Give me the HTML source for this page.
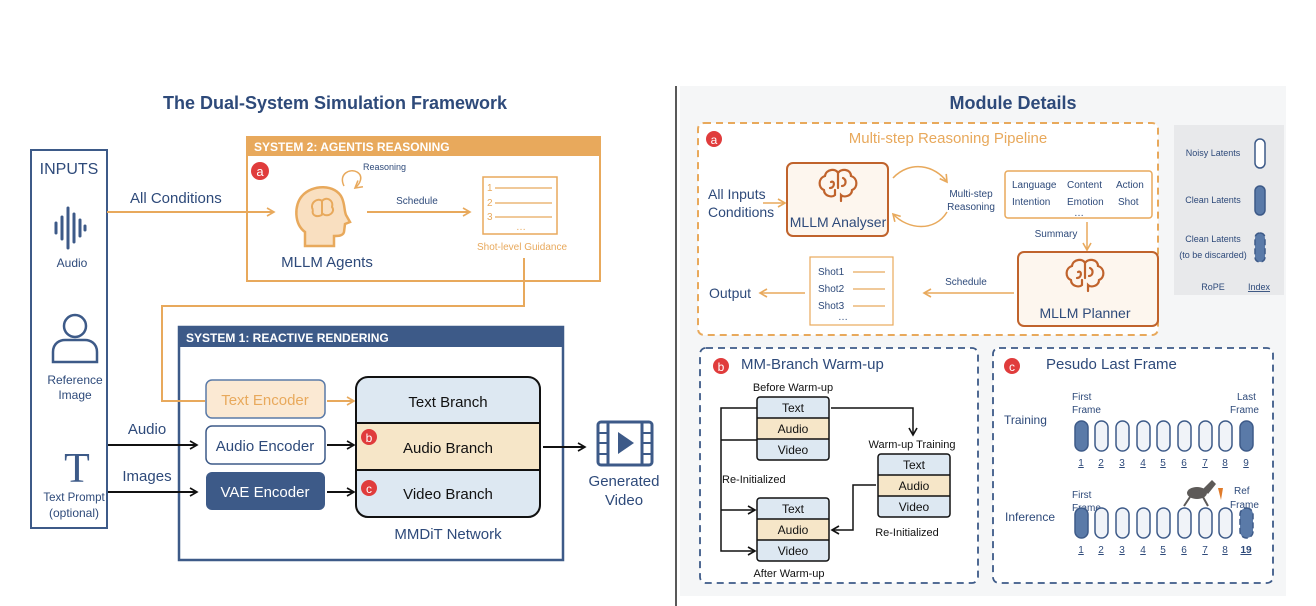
<!DOCTYPE html>
<html><head><meta charset="utf-8"><style>
body{margin:0;background:#fff;}
svg{display:block;font-family:"Liberation Sans",sans-serif;}
</style></head><body>
<svg width="1316" height="606" viewBox="0 0 1316 606" xmlns="http://www.w3.org/2000/svg">
<defs>
<marker id="ao" markerWidth="10" markerHeight="10" refX="8" refY="5" orient="auto" markerUnits="userSpaceOnUse"><path d="M1,1 L8,5 L1,9" fill="none" stroke="#e8a95c" stroke-width="1.6"/></marker>
<marker id="ak" markerWidth="10" markerHeight="10" refX="8" refY="5" orient="auto" markerUnits="userSpaceOnUse"><path d="M1,1 L8,5 L1,9" fill="none" stroke="#111" stroke-width="1.6"/></marker>
<g id="brain"><path d="M-14,4 C-20,2 -20,-8 -13,-10 C-12,-17 -2,-18 0,-13 C3,-18 13,-17 13,-10 C20,-8 20,2 14,4 C14,10 6,12 3,9 L3,15 M-14,4 C-14,10 -6,12 -3,9 M-7,-4 C-3,-6 -3,2 -8,2 M5,-8 C9,-6 8,0 4,0 M0,-13 L0,2 M-3,9 L-3,4" fill="none" stroke="#c0632c" stroke-width="2.2" stroke-linecap="round"/></g>
</defs>

<!-- LEFT -->
<text x="335" y="109" text-anchor="middle" font-size="18" font-weight="bold" fill="#2e4a7a">The Dual-System Simulation Framework</text>
<line x1="676" y1="86" x2="676" y2="606" stroke="#222" stroke-width="1.5"/>

<rect x="31" y="150" width="76" height="378" fill="#fff" stroke="#3d5a88" stroke-width="2"/>
<text x="69" y="174" text-anchor="middle" font-size="16" fill="#2e4a7a">INPUTS</text>
<g stroke="#3d5a88" stroke-width="3" stroke-linecap="round">
<line x1="56" y1="223" x2="56" y2="233"/><line x1="62" y1="217" x2="62" y2="239"/><line x1="68" y1="208" x2="68" y2="248"/><line x1="74" y1="214" x2="74" y2="242"/><line x1="80" y1="220" x2="80" y2="236"/><line x1="85" y1="226" x2="85" y2="230"/></g>
<text x="72" y="267" text-anchor="middle" font-size="12" fill="#2e4a7a">Audio</text>
<circle cx="75" cy="326" r="11" fill="none" stroke="#3d5a88" stroke-width="2.5"/>
<path d="M53,362 L53,352 C53,343 60,340 65,340 L85,340 C90,340 97,343 97,352 L97,362 Z" fill="none" stroke="#3d5a88" stroke-width="2.5"/>
<text x="75" y="384" text-anchor="middle" font-size="12" fill="#2e4a7a">Reference</text>
<text x="75" y="399" text-anchor="middle" font-size="12" fill="#2e4a7a">Image</text>
<text x="77" y="482" text-anchor="middle" font-size="42" font-family="Liberation Serif,serif" fill="#3d5a88">T</text>
<text x="74" y="501" text-anchor="middle" font-size="11.5" fill="#2e4a7a">Text Prompt</text>
<text x="74" y="517" text-anchor="middle" font-size="12" fill="#2e4a7a">(optional)</text>

<rect x="247" y="137" width="353" height="144" fill="#fff" stroke="#e8a95c" stroke-width="2"/>
<rect x="247" y="137" width="353" height="19" fill="#e8a95c"/>
<text x="254" y="151" font-size="12" font-weight="bold" fill="#fff">SYSTEM 2: AGENTIS REASONING</text>
<text x="130" y="203" font-size="15" fill="#2e4a7a">All Conditions</text>
<line x1="107" y1="212" x2="274" y2="212" stroke="#e8a95c" stroke-width="2" marker-end="url(#ao)"/>
<circle cx="260" cy="171" r="9" fill="#e03c3c"/><text x="260" y="176" text-anchor="middle" font-size="13" fill="#fff">a</text>
<path d="M305,246 L305,232 C294,224 294,205 302,196 C312,184 336,184 342,198 C345,205 344,210 346,215 L350,222 L345,224 L344,232 C343,236 338,236 334,236 L334,246 Z" fill="#f9dfc0" stroke="#e8a95c" stroke-width="2.5"/>
<path d="M313,210 C309,203 318,197 322,201 C326,196 334,200 332,207 C336,212 328,218 323,214 C318,218 311,216 313,210 M322,201 L322,214" fill="none" stroke="#e8a95c" stroke-width="2"/>
<path d="M344,186 C338,174 350,168 357,172 C364,176 360,184 355,188" fill="none" stroke="#e8a95c" stroke-width="1.5" marker-end="url(#ao)"/>
<text x="363" y="170" font-size="9" fill="#2e4a7a">Reasoning</text>
<text x="327" y="267" text-anchor="middle" font-size="15" fill="#2e4a7a">MLLM Agents</text>
<text x="417" y="204" text-anchor="middle" font-size="10" fill="#2e4a7a">Schedule</text>
<line x1="367" y1="212" x2="470" y2="212" stroke="#e8a95c" stroke-width="2" marker-end="url(#ao)"/>
<rect x="483" y="177" width="74" height="57" fill="#fff" stroke="#e8a95c" stroke-width="1.5"/>
<g font-size="10" fill="#e8a95c"><text x="487" y="191">1</text><text x="487" y="206">2</text><text x="487" y="220">3</text><text x="516" y="230">…</text></g>
<g stroke="#e8a95c" stroke-width="1.3"><line x1="495" y1="188" x2="552" y2="188"/><line x1="495" y1="203" x2="552" y2="203"/><line x1="495" y1="217" x2="552" y2="217"/></g>
<text x="522" y="250" text-anchor="middle" font-size="10" fill="#e8a95c">Shot-level Guidance</text>

<rect x="179" y="327" width="384" height="233" fill="#fff" stroke="#3d5a88" stroke-width="2.5"/>
<rect x="179" y="327" width="384" height="20" fill="#3d5a88"/>
<text x="186" y="342" font-size="12" font-weight="bold" fill="#fff">SYSTEM 1: REACTIVE RENDERING</text>
<polyline points="524,258 524,306 162,306 162,401 205,401" fill="none" stroke="#e8a95c" stroke-width="2"/>

<rect x="206" y="380" width="119" height="38" rx="6" fill="#fbe9d3" stroke="#5a7aa8" stroke-width="1.5"/>
<text x="265" y="405" text-anchor="middle" font-size="15" fill="#e8a95c">Text Encoder</text>
<rect x="206" y="426" width="119" height="38" rx="6" fill="#fff" stroke="#3d5a88" stroke-width="1.5"/>
<text x="265" y="451" text-anchor="middle" font-size="15" fill="#2e4a7a">Audio Encoder</text>
<rect x="206" y="472" width="119" height="38" rx="6" fill="#3d5a88"/>
<text x="265" y="497" text-anchor="middle" font-size="15" fill="#fff">VAE Encoder</text>
<line x1="327" y1="401" x2="354" y2="401" stroke="#e8a95c" stroke-width="2" marker-end="url(#ao)"/>
<line x1="327" y1="445" x2="354" y2="445" stroke="#111" stroke-width="2" marker-end="url(#ak)"/>
<line x1="327" y1="492" x2="354" y2="492" stroke="#111" stroke-width="2" marker-end="url(#ak)"/>

<clipPath id="mm"><rect x="356" y="377" width="184" height="140" rx="12"/></clipPath>
<g clip-path="url(#mm)">
<rect x="356" y="377" width="184" height="46" fill="#dde8f2"/>
<rect x="356" y="423" width="184" height="47" fill="#f6e6c8"/>
<rect x="356" y="470" width="184" height="47" fill="#dde8f2"/>
</g>
<rect x="356" y="377" width="184" height="140" rx="12" fill="none" stroke="#111" stroke-width="2"/>
<line x1="356" y1="423" x2="540" y2="423" stroke="#111" stroke-width="2"/>
<line x1="356" y1="470" x2="540" y2="470" stroke="#111" stroke-width="2"/>
<text x="448" y="407" text-anchor="middle" font-size="15" fill="#111">Text Branch</text>
<text x="448" y="453" text-anchor="middle" font-size="15" fill="#111">Audio Branch</text>
<text x="448" y="499" text-anchor="middle" font-size="15" fill="#111">Video Branch</text>
<circle cx="369" cy="437" r="8" fill="#e03c3c"/><text x="369" y="442" text-anchor="middle" font-size="12" fill="#fff">b</text>
<circle cx="369" cy="488" r="8" fill="#e03c3c"/><text x="369" y="493" text-anchor="middle" font-size="12" fill="#fff">c</text>
<text x="448" y="539" text-anchor="middle" font-size="15" fill="#2e4a7a">MMDiT Network</text>

<text x="147" y="434" text-anchor="middle" font-size="15" fill="#2e4a7a">Audio</text>
<text x="147" y="481" text-anchor="middle" font-size="15" fill="#2e4a7a">Images</text>
<line x1="108" y1="445" x2="197" y2="445" stroke="#111" stroke-width="2" marker-end="url(#ak)"/>
<line x1="108" y1="492" x2="197" y2="492" stroke="#111" stroke-width="2" marker-end="url(#ak)"/>
<line x1="543" y1="447" x2="585" y2="447" stroke="#111" stroke-width="2" marker-end="url(#ak)"/>

<rect x="598" y="422" width="54" height="43" rx="3" fill="none" stroke="#3d5a88" stroke-width="3"/>
<line x1="608" y1="422" x2="608" y2="465" stroke="#3d5a88" stroke-width="3"/>
<line x1="642" y1="422" x2="642" y2="465" stroke="#3d5a88" stroke-width="3"/>
<g stroke="#3d5a88" stroke-width="2"><line x1="598" y1="433" x2="608" y2="433"/><line x1="598" y1="443" x2="608" y2="443"/><line x1="598" y1="454" x2="608" y2="454"/><line x1="642" y1="433" x2="652" y2="433"/><line x1="642" y1="443" x2="652" y2="443"/><line x1="642" y1="454" x2="652" y2="454"/></g>
<path d="M618,432 L634,443 L618,454 Z" fill="#3d5a88"/>
<text x="624" y="486" text-anchor="middle" font-size="15" fill="#2e4a7a">Generated</text>
<text x="624" y="505" text-anchor="middle" font-size="15" fill="#2e4a7a">Video</text>

<!-- RIGHT -->
<rect x="680" y="86" width="606" height="510" fill="#f5f6f7"/>
<text x="1013" y="109" text-anchor="middle" font-size="18" font-weight="bold" fill="#2e4a7a">Module Details</text>

<rect x="698" y="123" width="460" height="212" rx="6" fill="#fff" stroke="#e8a95c" stroke-width="2" stroke-dasharray="7,5"/>
<circle cx="714" cy="139" r="8" fill="#e03c3c"/><text x="714" y="144" text-anchor="middle" font-size="12" fill="#fff">a</text>
<text x="948" y="143" text-anchor="middle" font-size="15" fill="#e8a95c">Multi-step Reasoning Pipeline</text>
<text x="708" y="199" font-size="14" fill="#2e4a7a">All Inputs</text>
<text x="708" y="217" font-size="14" fill="#2e4a7a">Conditions</text>
<line x1="763" y1="203" x2="785" y2="203" stroke="#e8a95c" stroke-width="1.5" marker-end="url(#ao)"/>
<rect x="787" y="163" width="101" height="73" rx="6" fill="#fdf6ee" stroke="#c0632c" stroke-width="2"/>
<use href="#brain" x="838" y="186"/>
<text x="838" y="227" text-anchor="middle" font-size="14" fill="#2e4a7a">MLLM Analyser</text>
<path d="M893,178 C910,160 935,165 947,182" fill="none" stroke="#e8a95c" stroke-width="1.5" marker-end="url(#ao)"/>
<path d="M947,212 C935,232 908,230 893,214" fill="none" stroke="#e8a95c" stroke-width="1.5" marker-end="url(#ao)"/>
<text x="971" y="197" text-anchor="middle" font-size="10" fill="#2e4a7a">Multi-step</text>
<text x="971" y="210" text-anchor="middle" font-size="10" fill="#2e4a7a">Reasoning</text>
<rect x="1005" y="171" width="147" height="47" rx="3" fill="#fff" stroke="#e8a95c" stroke-width="1.5"/>
<g font-size="10" fill="#2e4a7a"><text x="1012" y="188">Language</text><text x="1067" y="188">Content</text><text x="1116" y="188">Action</text><text x="1012" y="205">Intention</text><text x="1067" y="205">Emotion</text><text x="1118" y="205">Shot</text><text x="1074" y="216">…</text></g>
<text x="1056" y="237" text-anchor="middle" font-size="10" fill="#2e4a7a">Summary</text>
<line x1="1087" y1="222" x2="1087" y2="250" stroke="#e8a95c" stroke-width="1.5" marker-end="url(#ao)"/>
<rect x="1018" y="252" width="140" height="74" rx="6" fill="#fdf6ee" stroke="#c0632c" stroke-width="2"/>
<use href="#brain" x="1085" y="276"/>
<text x="1085" y="318" text-anchor="middle" font-size="14" fill="#2e4a7a">MLLM Planner</text>
<text x="966" y="285" text-anchor="middle" font-size="10" fill="#2e4a7a">Schedule</text>
<line x1="1014" y1="293" x2="924" y2="293" stroke="#e8a95c" stroke-width="1.5" marker-end="url(#ao)"/>
<rect x="810" y="257" width="83" height="68" fill="#fff" stroke="#e8a95c" stroke-width="1.2"/>
<g font-size="10" fill="#2e4a7a"><text x="818" y="275">Shot1</text><text x="818" y="292">Shot2</text><text x="818" y="309">Shot3</text><text x="838" y="320">…</text></g>
<g stroke="#e8a95c" stroke-width="1.3"><line x1="853" y1="272" x2="885" y2="272"/><line x1="853" y1="289" x2="885" y2="289"/><line x1="853" y1="306" x2="885" y2="306"/></g>
<text x="709" y="298" font-size="14" fill="#2e4a7a">Output</text>
<line x1="805" y1="293" x2="760" y2="293" stroke="#e8a95c" stroke-width="1.5" marker-end="url(#ao)"/>

<rect x="1174" y="125" width="110" height="170" fill="#e8e9eb"/>
<g font-size="9" fill="#2e4a7a" text-anchor="middle"><text x="1213" y="156">Noisy Latents</text><text x="1213" y="203">Clean Latents</text><text x="1213" y="242">Clean Latents</text><text x="1213" y="258">(to be discarded)</text><text x="1213" y="290">RoPE</text><text x="1259" y="290" text-decoration="underline">Index</text></g>
<rect x="1255" y="139" width="10" height="29" rx="5" fill="#fff" stroke="#3d5a88" stroke-width="1.5"/>
<rect x="1255" y="186" width="10" height="29" rx="5" fill="#5a7aa8" stroke="#3d5a88" stroke-width="1.5"/>
<rect x="1255" y="233" width="10" height="29" rx="5" fill="#5a7aa8" stroke="#3d5a88" stroke-width="1.5" stroke-dasharray="6,3"/>

<!-- b -->
<rect x="700" y="348" width="278" height="235" rx="6" fill="#fff" stroke="#3d5a88" stroke-width="1.8" stroke-dasharray="7,5"/>
<circle cx="721" cy="366" r="8" fill="#e03c3c"/><text x="721" y="371" text-anchor="middle" font-size="12" fill="#fff">b</text>
<text x="741" y="369" font-size="15" fill="#2e4a7a">MM-Branch Warm-up</text>
<text x="793" y="391" text-anchor="middle" font-size="11" fill="#111">Before Warm-up</text>
<g id="stk">
<rect x="757" y="397" width="72" height="21" fill="#dde8f2"/><rect x="757" y="418" width="72" height="21" fill="#f6e6c8"/><rect x="757" y="439" width="72" height="21" fill="#dde8f2"/>
<rect x="757" y="397" width="72" height="63" rx="3" fill="none" stroke="#111" stroke-width="1.5"/>
<line x1="757" y1="418" x2="829" y2="418" stroke="#111" stroke-width="1.5"/><line x1="757" y1="439" x2="829" y2="439" stroke="#111" stroke-width="1.5"/>
<g font-size="12" fill="#111" text-anchor="middle"><text x="793" y="412">Text</text><text x="793" y="433">Audio</text><text x="793" y="454">Video</text></g>
</g>
<use href="#stk" x="121" y="57"/>
<use href="#stk" x="0" y="101"/>
<text x="912" y="448" text-anchor="middle" font-size="11" fill="#111">Warm-up Training</text>
<text x="789" y="577" text-anchor="middle" font-size="11" fill="#111">After Warm-up</text>
<text x="722" y="483" font-size="11" fill="#111">Re-Initialized</text>
<text x="907" y="536" text-anchor="middle" font-size="11" fill="#111">Re-Initialized</text>
<polyline points="757,408 721,408 721,551 755,551" fill="none" stroke="#111" stroke-width="1.5" marker-end="url(#ak)"/>
<line x1="721" y1="440" x2="757" y2="440" stroke="#111" stroke-width="1.5"/>
<line x1="721" y1="510" x2="755" y2="510" stroke="#111" stroke-width="1.5" marker-end="url(#ak)"/>
<polyline points="831,408 913,408 913,435" fill="none" stroke="#111" stroke-width="1.5" marker-end="url(#ak)"/>
<polyline points="876,485 853,485 853,530 832,530" fill="none" stroke="#111" stroke-width="1.5" marker-end="url(#ak)"/>

<!-- c -->
<rect x="993" y="348" width="280" height="235" rx="6" fill="#fff" stroke="#3d5a88" stroke-width="1.8" stroke-dasharray="7,5"/>
<circle cx="1012" cy="366" r="8" fill="#e03c3c"/><text x="1012" y="371" text-anchor="middle" font-size="12" fill="#fff">c</text>
<text x="1046" y="369" font-size="15" fill="#2e4a7a">Pesudo Last Frame</text>
<g font-size="10" fill="#2e4a7a">
<text x="1072" y="400">First</text><text x="1072" y="413">Frame</text>
<text x="1237" y="400">Last</text><text x="1230" y="413">Frame</text>
<text x="1072" y="498">First</text><text x="1072" y="511">Frame</text>
<text x="1234" y="494">Ref</text><text x="1230" y="508">Frame</text>
</g>
<text x="1004" y="424" font-size="12" fill="#2e4a7a">Training</text>
<text x="1005" y="521" font-size="12" fill="#2e4a7a">Inference</text>
<g stroke="#3d5a88" stroke-width="1.5">
<rect x="1075" y="421" width="13" height="30" rx="6.5" fill="#5a7aa8"/>
<rect x="1095" y="421" width="13" height="30" rx="6.5" fill="#f0f3f8"/><rect x="1116" y="421" width="13" height="30" rx="6.5" fill="#f0f3f8"/><rect x="1137" y="421" width="13" height="30" rx="6.5" fill="#f0f3f8"/><rect x="1157" y="421" width="13" height="30" rx="6.5" fill="#f0f3f8"/><rect x="1178" y="421" width="13" height="30" rx="6.5" fill="#f0f3f8"/><rect x="1199" y="421" width="13" height="30" rx="6.5" fill="#f0f3f8"/><rect x="1219" y="421" width="13" height="30" rx="6.5" fill="#f0f3f8"/>
<rect x="1240" y="421" width="13" height="30" rx="6.5" fill="#5a7aa8"/>
<rect x="1075" y="508" width="13" height="30" rx="6.5" fill="#5a7aa8"/>
<rect x="1095" y="508" width="13" height="30" rx="6.5" fill="#f0f3f8"/><rect x="1116" y="508" width="13" height="30" rx="6.5" fill="#f0f3f8"/><rect x="1137" y="508" width="13" height="30" rx="6.5" fill="#f0f3f8"/><rect x="1157" y="508" width="13" height="30" rx="6.5" fill="#f0f3f8"/><rect x="1178" y="508" width="13" height="30" rx="6.5" fill="#f0f3f8"/><rect x="1199" y="508" width="13" height="30" rx="6.5" fill="#f0f3f8"/><rect x="1219" y="508" width="13" height="30" rx="6.5" fill="#f0f3f8"/>
<rect x="1240" y="508" width="13" height="30" rx="6.5" fill="#5a7aa8" stroke-dasharray="6,3"/>
</g>
<g font-size="10" fill="#2e4a7a" text-anchor="middle" text-decoration="underline">
<text x="1081" y="466">1</text><text x="1101" y="466">2</text><text x="1122" y="466">3</text><text x="1143" y="466">4</text><text x="1163" y="466">5</text><text x="1184" y="466">6</text><text x="1205" y="466">7</text><text x="1225" y="466">8</text><text x="1246" y="466">9</text>
<text x="1081" y="553">1</text><text x="1101" y="553">2</text><text x="1122" y="553">3</text><text x="1143" y="553">4</text><text x="1163" y="553">5</text><text x="1184" y="553">6</text><text x="1205" y="553">7</text><text x="1225" y="553">8</text><text x="1246" y="553" font-weight="bold">19</text>
</g>
<g fill="#5d5a58"><ellipse cx="1197" cy="493" rx="10" ry="6"/><path d="M1203,489 L1212,480 L1216,484 L1208,494 Z"/><line x1="1190" y1="497" x2="1184" y2="506" stroke="#5d5a58" stroke-width="2"/><line x1="1203" y1="497" x2="1208" y2="506" stroke="#5d5a58" stroke-width="2"/></g>
<path d="M1218,488 L1221,500 L1223,488 Z" fill="#e07b2a"/>
</svg>
</body></html>
